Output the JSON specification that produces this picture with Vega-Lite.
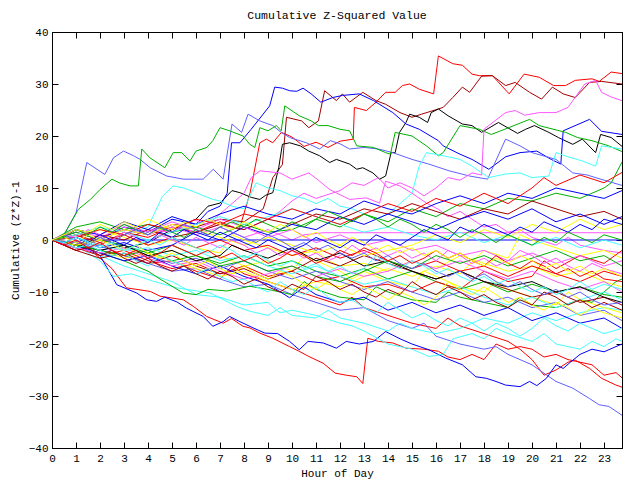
{
"$schema": "https://vega.github.io/schema/vega-lite/v6.json",
"autosize": "none",
"width": 570,
"height": 416,
"padding": {"left": 52, "top": 32, "right": 18, "bottom": 32},
"background": "white",
"title": {"text": "Cumulative Z-Squared Value", "font": "Liberation Mono", "fontSize": 11.5, "fontWeight": "normal", "color": "black", "offset": 5, "anchor": "middle"},
"config": {
  "view": {"stroke": "black", "strokeWidth": 1},
  "axis": {"labelFont": "Liberation Mono", "labelFontSize": 11, "labelColor": "black", "titleFont": "Liberation Mono", "titleFontSize": 11, "titleFontWeight": "normal", "titleColor": "black", "domainColor": "black", "tickColor": "black", "tickSize": -6, "grid": false}
},
"data": {"values": [
{"s":1,"h":0,"v":0},{"s":1,"h":1,"v":1},{"s":1,"h":2,"v":-1},{"s":1,"h":3,"v":1.5},{"s":1,"h":4,"v":0.5},{"s":1,"h":5,"v":2.5},{"s":1,"h":6,"v":1.5},{"s":1,"h":7,"v":3.5},{"s":1,"h":7.8,"v":2},{"s":1,"h":8.25,"v":9},{"s":1,"h":8.66,"v":18.7},{"s":1,"h":8.93,"v":19.4},{"s":1,"h":9.2,"v":18.7},{"s":1,"h":9.56,"v":20.7},{"s":1,"h":10,"v":19.8},{"s":1,"h":10.5,"v":18},{"s":1,"h":11,"v":18.8},{"s":1,"h":11.5,"v":17.8},{"s":1,"h":12,"v":19},{"s":1,"h":12.55,"v":19.4},{"s":1,"h":12.6,"v":25.5},{"s":1,"h":13.1,"v":24.9},{"s":1,"h":13.5,"v":26.5},{"s":1,"h":13.9,"v":28.4},{"s":1,"h":14.3,"v":28.4},{"s":1,"h":14.6,"v":29.7},{"s":1,"h":14.9,"v":30},{"s":1,"h":15.3,"v":29},{"s":1,"h":15.9,"v":28.1},{"s":1,"h":16.1,"v":35.4},{"s":1,"h":16.7,"v":33.9},{"s":1,"h":17.1,"v":33.6},{"s":1,"h":17.5,"v":31.9},{"s":1,"h":17.8,"v":31.6},{"s":1,"h":18.35,"v":31.6},{"s":1,"h":19.05,"v":28.1},{"s":1,"h":19.67,"v":31.9},{"s":1,"h":20.3,"v":31.3},{"s":1,"h":20.9,"v":29.7},{"s":1,"h":21.4,"v":29.7},{"s":1,"h":21.8,"v":30.7},{"s":1,"h":22.5,"v":31},{"s":1,"h":22.8,"v":30.5},{"s":1,"h":23.3,"v":32.3},{"s":1,"h":23.75,"v":32},
{"s":2,"h":0,"v":0},{"s":2,"h":1,"v":-1},{"s":2,"h":2,"v":0.5},{"s":2,"h":3,"v":2},{"s":2,"h":4,"v":1},{"s":2,"h":5,"v":3},{"s":2,"h":6,"v":2.5},{"s":2,"h":7,"v":4},{"s":2,"h":8,"v":3.5},{"s":2,"h":8.8,"v":6},{"s":2,"h":9.2,"v":12},{"s":2,"h":9.6,"v":14.5},{"s":2,"h":9.77,"v":23.6},{"s":2,"h":10.4,"v":22.9},{"s":2,"h":10.7,"v":21.6},{"s":2,"h":11.1,"v":22.9},{"s":2,"h":11.36,"v":28.7},{"s":2,"h":11.85,"v":26.8},{"s":2,"h":12.1,"v":28.1},{"s":2,"h":12.4,"v":26.5},{"s":2,"h":12.95,"v":28.4},{"s":2,"h":13.5,"v":26.8},{"s":2,"h":13.9,"v":26.1},{"s":2,"h":14.5,"v":24.5},{"s":2,"h":15,"v":23.6},{"s":2,"h":15.4,"v":24.2},{"s":2,"h":16.1,"v":25.2},{"s":2,"h":16.3,"v":25.5},{"s":2,"h":16.7,"v":27.4},{"s":2,"h":17.1,"v":29.4},{"s":2,"h":17.4,"v":28.4},{"s":2,"h":17.9,"v":31.5},{"s":2,"h":18.35,"v":31.6},{"s":2,"h":18.9,"v":29.7},{"s":2,"h":19.3,"v":30.3},{"s":2,"h":19.9,"v":28.4},{"s":2,"h":20.4,"v":27.1},{"s":2,"h":20.85,"v":29.4},{"s":2,"h":21.3,"v":28.1},{"s":2,"h":21.8,"v":27.4},{"s":2,"h":22.4,"v":30.3},{"s":2,"h":22.9,"v":30.5},{"s":2,"h":23.75,"v":30},
{"s":3,"h":0,"v":0},{"s":3,"h":1,"v":-1.5},{"s":3,"h":2,"v":0.5},{"s":3,"h":3,"v":-1.5},{"s":3,"h":4,"v":-0.5},{"s":3,"h":5,"v":2},{"s":3,"h":6,"v":4},{"s":3,"h":6.5,"v":6.5},{"s":3,"h":7,"v":7.1},{"s":3,"h":7.5,"v":9.5},{"s":3,"h":7.83,"v":9.1},{"s":3,"h":8.3,"v":8.2},{"s":3,"h":8.66,"v":7.8},{"s":3,"h":8.9,"v":8.6},{"s":3,"h":9.2,"v":9.1},{"s":3,"h":9.45,"v":14},{"s":3,"h":9.6,"v":18.4},{"s":3,"h":9.9,"v":18.7},{"s":3,"h":10.35,"v":18.1},{"s":3,"h":10.7,"v":17.1},{"s":3,"h":11.15,"v":16.2},{"s":3,"h":11.57,"v":14.9},{"s":3,"h":11.85,"v":15.5},{"s":3,"h":12.4,"v":14.6},{"s":3,"h":12.7,"v":13.6},{"s":3,"h":12.95,"v":13.9},{"s":3,"h":13.37,"v":12.9},{"s":3,"h":13.65,"v":11.7},{"s":3,"h":13.9,"v":12.3},{"s":3,"h":14.13,"v":16.8},{"s":3,"h":14.3,"v":16.8},{"s":3,"h":14.48,"v":20.7},{"s":3,"h":14.75,"v":22.6},{"s":3,"h":14.9,"v":24.2},{"s":3,"h":15.3,"v":23.6},{"s":3,"h":15.65,"v":22.6},{"s":3,"h":15.8,"v":24.5},{"s":3,"h":16.1,"v":25.2},{"s":3,"h":16.5,"v":23.9},{"s":3,"h":17.1,"v":22.3},{"s":3,"h":17.5,"v":22},{"s":3,"h":17.9,"v":20.7},{"s":3,"h":18.6,"v":22.6},{"s":3,"h":19.4,"v":20.5},{"s":3,"h":19.74,"v":21.3},{"s":3,"h":20.1,"v":22},{"s":3,"h":20.7,"v":20.7},{"s":3,"h":21.1,"v":19.7},{"s":3,"h":21.7,"v":18.4},{"s":3,"h":22.1,"v":19.4},{"s":3,"h":22.65,"v":16.8},{"s":3,"h":22.86,"v":20.3},{"s":3,"h":23.3,"v":19.7},{"s":3,"h":23.75,"v":18},
{"s":4,"h":0,"v":0},{"s":4,"h":1,"v":1.5},{"s":4,"h":2,"v":0},{"s":4,"h":3,"v":2.5},{"s":4,"h":4,"v":1.5},{"s":4,"h":5,"v":4},{"s":4,"h":6,"v":3},{"s":4,"h":6.5,"v":5.5},{"s":4,"h":7,"v":6.5},{"s":4,"h":7.3,"v":9},{"s":4,"h":7.48,"v":18.7},{"s":4,"h":7.83,"v":18.7},{"s":4,"h":8.3,"v":21.3},{"s":4,"h":9.07,"v":25.8},{"s":4,"h":9.28,"v":29.4},{"s":4,"h":9.6,"v":29.2},{"s":4,"h":9.9,"v":28.7},{"s":4,"h":10.2,"v":28.6},{"s":4,"h":10.46,"v":29.2},{"s":4,"h":10.8,"v":28.1},{"s":4,"h":11.2,"v":26.5},{"s":4,"h":11.7,"v":27.4},{"s":4,"h":12.1,"v":27.8},{"s":4,"h":12.8,"v":28.1},{"s":4,"h":13.4,"v":26.8},{"s":4,"h":14.2,"v":24.5},{"s":4,"h":14.75,"v":22.3},{"s":4,"h":15.3,"v":21.3},{"s":4,"h":16.1,"v":19.1},{"s":4,"h":16.3,"v":18.1},{"s":4,"h":17,"v":16.5},{"s":4,"h":17.5,"v":15.5},{"s":4,"h":18.2,"v":13.6},{"s":4,"h":18.9,"v":16},{"s":4,"h":19.5,"v":16.8},{"s":4,"h":20.2,"v":17.1},{"s":4,"h":20.8,"v":15.5},{"s":4,"h":21.2,"v":14.6},{"s":4,"h":21.3,"v":21},{"s":4,"h":22.4,"v":23.2},{"s":4,"h":22.9,"v":20.9},{"s":4,"h":23.75,"v":20.3},
{"s":5,"h":0,"v":0},{"s":5,"h":0.5,"v":1},{"s":5,"h":1,"v":5.2},{"s":5,"h":1.45,"v":14.9},{"s":5,"h":2.2,"v":12.6},{"s":5,"h":2.56,"v":15.8},{"s":5,"h":2.98,"v":17.1},{"s":5,"h":3.4,"v":16.2},{"s":5,"h":3.67,"v":15.5},{"s":5,"h":4.09,"v":13.9},{"s":5,"h":4.78,"v":12.3},{"s":5,"h":5.47,"v":11.7},{"s":5,"h":6.3,"v":11.7},{"s":5,"h":6.72,"v":13.6},{"s":5,"h":7.13,"v":11.7},{"s":5,"h":7.5,"v":22.3},{"s":5,"h":7.9,"v":20.7},{"s":5,"h":8.17,"v":24.2},{"s":5,"h":8.66,"v":22.9},{"s":5,"h":9.2,"v":22},{"s":5,"h":9.55,"v":20.7},{"s":5,"h":9.9,"v":19.7},{"s":5,"h":10.6,"v":18.7},{"s":5,"h":11.15,"v":17.5},{"s":5,"h":11.6,"v":19.1},{"s":5,"h":12,"v":18.5},{"s":5,"h":12.4,"v":17.5},{"s":5,"h":13,"v":17.8},{"s":5,"h":13.6,"v":17.5},{"s":5,"h":14.2,"v":16.8},{"s":5,"h":15,"v":15.5},{"s":5,"h":15.7,"v":14.6},{"s":5,"h":16.55,"v":13.3},{"s":5,"h":17.4,"v":12.3},{"s":5,"h":18.15,"v":11.7},{"s":5,"h":18.9,"v":19.4},{"s":5,"h":19.5,"v":18.1},{"s":5,"h":20,"v":16.8},{"s":5,"h":21,"v":15.5},{"s":5,"h":21.7,"v":12.9},{"s":5,"h":22.3,"v":12.5},{"s":5,"h":23,"v":11.5},{"s":5,"h":23.75,"v":10.5},
{"s":6,"h":0,"v":0},{"s":6,"h":0.5,"v":1},{"s":6,"h":1.1,"v":5.9},{"s":6,"h":1.6,"v":7.8},{"s":6,"h":2,"v":9.7},{"s":6,"h":2.5,"v":11.7},{"s":6,"h":2.8,"v":11},{"s":6,"h":3.25,"v":10.4},{"s":6,"h":3.6,"v":10.4},{"s":6,"h":3.74,"v":17.5},{"s":6,"h":4.08,"v":15.8},{"s":6,"h":4.7,"v":13.9},{"s":6,"h":5.05,"v":16.8},{"s":6,"h":5.4,"v":16.8},{"s":6,"h":5.75,"v":15.2},{"s":6,"h":6,"v":17.1},{"s":6,"h":6.45,"v":17.8},{"s":6,"h":6.7,"v":19.1},{"s":6,"h":7,"v":21.6},{"s":6,"h":7.4,"v":21},{"s":6,"h":7.96,"v":20},{"s":6,"h":8.24,"v":18.4},{"s":6,"h":8.45,"v":17.8},{"s":6,"h":8.66,"v":21.6},{"s":6,"h":9,"v":21},{"s":6,"h":9.35,"v":22},{"s":6,"h":9.55,"v":21},{"s":6,"h":9.7,"v":25.8},{"s":6,"h":10.3,"v":23.9},{"s":6,"h":10.8,"v":22.9},{"s":6,"h":11.1,"v":22},{"s":6,"h":11.5,"v":22},{"s":6,"h":12,"v":21.3},{"s":6,"h":12.4,"v":21},{"s":6,"h":12.7,"v":18.1},{"s":6,"h":13.4,"v":17.8},{"s":6,"h":13.9,"v":16.8},{"s":6,"h":14.1,"v":16.5},{"s":6,"h":14.3,"v":20.7},{"s":6,"h":15,"v":20},{"s":6,"h":15.6,"v":18.1},{"s":6,"h":16.1,"v":16.2},{"s":6,"h":16.3,"v":16.8},{"s":6,"h":17,"v":22},{"s":6,"h":17.8,"v":21.3},{"s":6,"h":18.3,"v":20.3},{"s":6,"h":18.7,"v":21},{"s":6,"h":19.9,"v":23.2},{"s":6,"h":20.3,"v":22},{"s":6,"h":21.4,"v":20.7},{"s":6,"h":21.9,"v":19.7},{"s":6,"h":22.5,"v":19.1},{"s":6,"h":23.2,"v":18.1},{"s":6,"h":23.75,"v":17},
{"s":7,"h":0,"v":0},{"s":7,"h":1,"v":2},{"s":7,"h":2,"v":0.5},{"s":7,"h":3,"v":2.5},{"s":7,"h":4,"v":1},{"s":7,"h":5,"v":3},{"s":7,"h":6,"v":1.5},{"s":7,"h":7,"v":3},{"s":7,"h":8,"v":2},{"s":7,"h":9,"v":4},{"s":7,"h":9.5,"v":5.5},{"s":7,"h":10,"v":7.5},{"s":7,"h":10.5,"v":9},{"s":7,"h":11,"v":8},{"s":7,"h":12,"v":9.5},{"s":7,"h":12.5,"v":11},{"s":7,"h":13,"v":10.5},{"s":7,"h":13.6,"v":12},{"s":7,"h":14,"v":10},{"s":7,"h":14.5,"v":11},{"s":7,"h":15,"v":10},{"s":7,"h":15.5,"v":8.5},{"s":7,"h":16,"v":10},{"s":7,"h":16.5,"v":12},{"s":7,"h":17,"v":11.5},{"s":7,"h":17.5,"v":12.9},{"s":7,"h":17.9,"v":12.5},{"s":7,"h":18,"v":21.3},{"s":7,"h":18.9,"v":24.5},{"s":7,"h":19.3,"v":24.9},{"s":7,"h":19.7,"v":24},{"s":7,"h":20.3,"v":24.5},{"s":7,"h":21,"v":24.5},{"s":7,"h":21.5,"v":25.5},{"s":7,"h":22.2,"v":30},{"s":7,"h":22.65,"v":30.7},{"s":7,"h":22.9,"v":28.4},{"s":7,"h":23.3,"v":27.5},{"s":7,"h":23.75,"v":26.8},
{"s":8,"h":0,"v":0},{"s":8,"h":1,"v":-1},{"s":8,"h":2,"v":1},{"s":8,"h":3,"v":0},{"s":8,"h":4,"v":2},{"s":8,"h":5,"v":1.5},{"s":8,"h":5.9,"v":3.9},{"s":8,"h":6.5,"v":3},{"s":8,"h":7,"v":5},{"s":8,"h":7.5,"v":7},{"s":8,"h":8,"v":9},{"s":8,"h":8.3,"v":12},{"s":8,"h":8.66,"v":13.3},{"s":8,"h":9.5,"v":12.9},{"s":8,"h":10,"v":11.7},{"s":8,"h":10.7,"v":12.9},{"s":8,"h":11.1,"v":11.5},{"s":8,"h":11.57,"v":9.7},{"s":8,"h":12.4,"v":7.8},{"s":8,"h":13.1,"v":8.1},{"s":8,"h":13.65,"v":7.1},{"s":8,"h":13.9,"v":11.3},{"s":8,"h":14.5,"v":10.4},{"s":8,"h":15,"v":9},{"s":8,"h":15.6,"v":7.1},{"s":8,"h":16.1,"v":5.9},{"s":8,"h":16.5,"v":4.5},{"s":8,"h":17,"v":5.5},{"s":8,"h":17.5,"v":4},{"s":8,"h":18,"v":2.5},{"s":8,"h":18.5,"v":3},{"s":8,"h":19,"v":1.5},{"s":8,"h":19.5,"v":2},{"s":8,"h":20,"v":0.5},{"s":8,"h":21,"v":-1},{"s":8,"h":21.5,"v":0.5},{"s":8,"h":22,"v":-1},{"s":8,"h":23,"v":-2},{"s":8,"h":23.75,"v":-2.5},
{"s":9,"h":0,"v":0},{"s":9,"h":1,"v":1},{"s":9,"h":2,"v":-0.5},{"s":9,"h":3,"v":1},{"s":9,"h":4,"v":2.5},{"s":9,"h":4.6,"v":8.4},{"s":9,"h":5.05,"v":10.4},{"s":9,"h":5.5,"v":10},{"s":9,"h":6,"v":9.1},{"s":9,"h":6.7,"v":7.8},{"s":9,"h":7,"v":7.5},{"s":9,"h":7.5,"v":6.5},{"s":9,"h":8,"v":6},{"s":9,"h":8.5,"v":11},{"s":9,"h":9,"v":10},{"s":9,"h":9.5,"v":9.5},{"s":9,"h":10,"v":8.5},{"s":9,"h":10.5,"v":8},{"s":9,"h":11,"v":7},{"s":9,"h":11.5,"v":8},{"s":9,"h":12,"v":6.5},{"s":9,"h":12.5,"v":6},{"s":9,"h":13,"v":5},{"s":9,"h":13.5,"v":4},{"s":9,"h":14,"v":5},{"s":9,"h":14.5,"v":7},{"s":9,"h":15,"v":9},{"s":9,"h":15.3,"v":14.2},{"s":9,"h":15.6,"v":16.8},{"s":9,"h":16.3,"v":16.2},{"s":9,"h":17,"v":15.5},{"s":9,"h":17.5,"v":14.2},{"s":9,"h":18.2,"v":12},{"s":9,"h":18.9,"v":12.7},{"s":9,"h":19.5,"v":12.9},{"s":9,"h":20,"v":12},{"s":9,"h":20.7,"v":12.3},{"s":9,"h":21,"v":16.8},{"s":9,"h":21.5,"v":16},{"s":9,"h":22.1,"v":15.2},{"s":9,"h":22.65,"v":14.2},{"s":9,"h":22.9,"v":18.1},{"s":9,"h":23.75,"v":17.5},
{"s":10,"h":0,"v":0},{"s":10,"h":0.5,"v":-1},{"s":10,"h":1,"v":-2},{"s":10,"h":1.5,"v":-1.5},{"s":10,"h":2,"v":-3.5},{"s":10,"h":2.5,"v":-5.5},{"s":10,"h":3.1,"v":-9.2},{"s":10,"h":4.1,"v":-9.9},{"s":10,"h":4.5,"v":-10.8},{"s":10,"h":5.47,"v":-11.5},{"s":10,"h":5.9,"v":-12.8},{"s":10,"h":6.44,"v":-14.7},{"s":10,"h":7.13,"v":-16},{"s":10,"h":7.48,"v":-15.1},{"s":10,"h":7.96,"v":-16.6},{"s":10,"h":8.24,"v":-16.9},{"s":10,"h":8.66,"v":-17.9},{"s":10,"h":9.2,"v":-18.9},{"s":10,"h":9.9,"v":-20.5},{"s":10,"h":10.3,"v":-21.4},{"s":10,"h":10.7,"v":-22.4},{"s":10,"h":11.3,"v":-23.7},{"s":10,"h":11.8,"v":-25.6},{"s":10,"h":12.26,"v":-26},{"s":10,"h":12.7,"v":-26.3},{"s":10,"h":12.95,"v":-27.6},{"s":10,"h":13.16,"v":-18.9},{"s":10,"h":13.6,"v":-19.5},{"s":10,"h":14.2,"v":-19.8},{"s":10,"h":14.75,"v":-20.8},{"s":10,"h":15.5,"v":-21},{"s":10,"h":16.1,"v":-21.4},{"s":10,"h":16.5,"v":-22.5},{"s":10,"h":17,"v":-23},{"s":10,"h":17.5,"v":-22},{"s":10,"h":18,"v":-23},{"s":10,"h":18.5,"v":-20},{"s":10,"h":19,"v":-21},{"s":10,"h":19.5,"v":-20.5},{"s":10,"h":20,"v":-21},{"s":10,"h":20.5,"v":-22.5},{"s":10,"h":21,"v":-22},{"s":10,"h":21.5,"v":-23},{"s":10,"h":22,"v":-23.5},{"s":10,"h":22.5,"v":-24},{"s":10,"h":23,"v":-26},{"s":10,"h":23.5,"v":-25.5},{"s":10,"h":23.75,"v":-26.5},
{"s":11,"h":0,"v":0},{"s":11,"h":1,"v":-0.5},{"s":11,"h":2,"v":-2},{"s":11,"h":3,"v":-3},{"s":11,"h":4,"v":-4.5},{"s":11,"h":5,"v":-4},{"s":11,"h":6,"v":-6},{"s":11,"h":7,"v":-7.5},{"s":11,"h":7.5,"v":-5},{"s":11,"h":8,"v":-6.5},{"s":11,"h":9,"v":-8},{"s":11,"h":10,"v":-9.5},{"s":11,"h":11,"v":-11},{"s":11,"h":12,"v":-12.5},{"s":11,"h":12.5,"v":-11},{"s":11,"h":13,"v":-13},{"s":11,"h":14,"v":-14.5},{"s":11,"h":15,"v":-16},{"s":11,"h":16,"v":-17},{"s":11,"h":16.5,"v":-15},{"s":11,"h":17,"v":-16.5},{"s":11,"h":18,"v":-18},{"s":11,"h":19,"v":-19.5},{"s":11,"h":19.5,"v":-21},{"s":11,"h":20,"v":-23},{"s":11,"h":20.5,"v":-26},{"s":11,"h":21,"v":-25},{"s":11,"h":21.5,"v":-23.5},{"s":11,"h":21.8,"v":-23.1},{"s":11,"h":22.4,"v":-24.7},{"s":11,"h":22.9,"v":-26.6},{"s":11,"h":23.5,"v":-27.9},{"s":11,"h":23.75,"v":-28.3},
{"s":12,"h":0,"v":0},{"s":12,"h":1,"v":-1.5},{"s":12,"h":2,"v":-1},{"s":12,"h":3,"v":-3},{"s":12,"h":4,"v":-4.5},{"s":12,"h":5,"v":-6},{"s":12,"h":6,"v":-5.5},{"s":12,"h":7,"v":-7.5},{"s":12,"h":8,"v":-9},{"s":12,"h":9,"v":-8.5},{"s":12,"h":10,"v":-10.5},{"s":12,"h":11,"v":-12},{"s":12,"h":12,"v":-13.5},{"s":12,"h":13,"v":-13},{"s":12,"h":14,"v":-15.5},{"s":12,"h":15,"v":-17},{"s":12,"h":15.5,"v":-16},{"s":12,"h":16,"v":-18.5},{"s":12,"h":17,"v":-20},{"s":12,"h":18,"v":-21},{"s":12,"h":18.5,"v":-20.5},{"s":12,"h":19,"v":-22},{"s":12,"h":20,"v":-24},{"s":12,"h":20.4,"v":-25.3},{"s":12,"h":21,"v":-27.2},{"s":12,"h":21.7,"v":-28.5},{"s":12,"h":22.4,"v":-30.5},{"s":12,"h":22.8,"v":-31.7},{"s":12,"h":23.2,"v":-32},{"s":12,"h":23.75,"v":-33.7},
{"s":13,"h":0,"v":0},{"s":13,"h":1,"v":-1},{"s":13,"h":2,"v":-3},{"s":13,"h":2.7,"v":-8.6},{"s":13,"h":3.53,"v":-10.2},{"s":13,"h":3.95,"v":-11.5},{"s":13,"h":4.36,"v":-11.8},{"s":13,"h":4.7,"v":-11},{"s":13,"h":5.2,"v":-11.9},{"s":13,"h":5.6,"v":-13.1},{"s":13,"h":6.3,"v":-14.7},{"s":13,"h":6.7,"v":-16.6},{"s":13,"h":7.13,"v":-15.7},{"s":13,"h":7.4,"v":-14.7},{"s":13,"h":7.83,"v":-15.7},{"s":13,"h":8.38,"v":-16.9},{"s":13,"h":8.87,"v":-17.9},{"s":13,"h":9.4,"v":-18},{"s":13,"h":9.9,"v":-19.5},{"s":13,"h":10.3,"v":-21.1},{"s":13,"h":10.67,"v":-19.5},{"s":13,"h":11.3,"v":-19.8},{"s":13,"h":11.85,"v":-20.8},{"s":13,"h":12.26,"v":-19.5},{"s":13,"h":12.8,"v":-20},{"s":13,"h":13.4,"v":-19.5},{"s":13,"h":13.9,"v":-17.6},{"s":13,"h":14.5,"v":-19},{"s":13,"h":15,"v":-20},{"s":13,"h":15.7,"v":-21.1},{"s":13,"h":16.4,"v":-22.7},{"s":13,"h":17.1,"v":-24},{"s":13,"h":17.66,"v":-26.3},{"s":13,"h":18.1,"v":-26.6},{"s":13,"h":18.5,"v":-27.2},{"s":13,"h":18.9,"v":-27.9},{"s":13,"h":19.5,"v":-28.2},{"s":13,"h":19.9,"v":-27.2},{"s":13,"h":20.2,"v":-28},{"s":13,"h":20.6,"v":-26.6},{"s":13,"h":21,"v":-24},{"s":13,"h":21.3,"v":-24.7},{"s":13,"h":21.6,"v":-23.5},{"s":13,"h":22,"v":-22},{"s":13,"h":22.5,"v":-21},{"s":13,"h":23,"v":-21.5},{"s":13,"h":23.75,"v":-20},
{"s":14,"h":0,"v":0},{"s":14,"h":1,"v":-1.5},{"s":14,"h":2,"v":-3},{"s":14,"h":3,"v":-5},{"s":14,"h":4,"v":-6.5},{"s":14,"h":5,"v":-8},{"s":14,"h":6,"v":-10.5},{"s":14,"h":7,"v":-11},{"s":14,"h":8,"v":-12.5},{"s":14,"h":9,"v":-12},{"s":14,"h":9.5,"v":-14},{"s":14,"h":10,"v":-13.5},{"s":14,"h":11,"v":-14.5},{"s":14,"h":12,"v":-16},{"s":14,"h":12.5,"v":-16.5},{"s":14,"h":13,"v":-17.5},{"s":14,"h":14,"v":-20},{"s":14,"h":15,"v":-21},{"s":14,"h":15.7,"v":-22.4},{"s":14,"h":16.3,"v":-22},{"s":14,"h":16.7,"v":-19},{"s":14,"h":17.5,"v":-18},{"s":14,"h":18,"v":-19},{"s":14,"h":18.5,"v":-17},{"s":14,"h":19,"v":-18},{"s":14,"h":20,"v":-19.5},{"s":14,"h":20.5,"v":-18},{"s":14,"h":21,"v":-20},{"s":14,"h":22,"v":-21},{"s":14,"h":22.5,"v":-19.5},{"s":14,"h":23,"v":-20.5},{"s":14,"h":23.5,"v":-19},{"s":14,"h":23.75,"v":-19.5},
{"s":15,"h":0,"v":0},{"s":15,"h":1,"v":-1},{"s":15,"h":2,"v":-4},{"s":15,"h":2.56,"v":-7},{"s":15,"h":3.3,"v":-6.5},{"s":15,"h":4.2,"v":-7.9},{"s":15,"h":5.2,"v":-9.2},{"s":15,"h":6.6,"v":-10.2},{"s":15,"h":7.7,"v":-12.8},{"s":15,"h":8.24,"v":-13.7},{"s":15,"h":9,"v":-14.5},{"s":15,"h":9.5,"v":-13},{"s":15,"h":10,"v":-14.5},{"s":15,"h":11,"v":-15},{"s":15,"h":11.5,"v":-13.5},{"s":15,"h":12,"v":-15},{"s":15,"h":13,"v":-16},{"s":15,"h":14,"v":-17.5},{"s":15,"h":14.5,"v":-16},{"s":15,"h":15,"v":-17},{"s":15,"h":16,"v":-18},{"s":15,"h":17,"v":-17},{"s":15,"h":18,"v":-15},{"s":15,"h":19,"v":-16},{"s":15,"h":20,"v":-14},{"s":15,"h":21,"v":-15.5},{"s":15,"h":22,"v":-14},{"s":15,"h":23,"v":-13},{"s":15,"h":23.75,"v":-13.5},
{"s":16,"h":0,"v":0},{"s":16,"h":1,"v":-1},{"s":16,"h":2,"v":-2.5},{"s":16,"h":3,"v":-4},{"s":16,"h":4,"v":-6},{"s":16,"h":4.5,"v":-7.5},{"s":16,"h":5.47,"v":-10.2},{"s":16,"h":6,"v":-10.5},{"s":16,"h":6.5,"v":-9.5},{"s":16,"h":7.3,"v":-9.8},{"s":16,"h":8.24,"v":-8.9},{"s":16,"h":9,"v":-9.5},{"s":16,"h":10,"v":-10.5},{"s":16,"h":10.5,"v":-8},{"s":16,"h":11,"v":-9.5},{"s":16,"h":12,"v":-11},{"s":16,"h":13,"v":-11.5},{"s":16,"h":13.5,"v":-9},{"s":16,"h":14,"v":-10},{"s":16,"h":15,"v":-11.5},{"s":16,"h":16,"v":-12},{"s":16,"h":16.5,"v":-10},{"s":16,"h":17,"v":-11},{"s":16,"h":18,"v":-12},{"s":16,"h":19,"v":-13},{"s":16,"h":19.5,"v":-11},{"s":16,"h":20,"v":-12.5},{"s":16,"h":21,"v":-13},{"s":16,"h":22,"v":-11.5},{"s":16,"h":22.5,"v":-12},{"s":16,"h":23,"v":-10},{"s":16,"h":23.5,"v":-8},{"s":16,"h":23.75,"v":-7.5},
{"s":17,"h":0,"v":0},{"s":17,"h":1,"v":1.5},{"s":17,"h":2,"v":0},{"s":17,"h":3,"v":2},{"s":17,"h":4,"v":1},{"s":17,"h":5,"v":2.5},{"s":17,"h":6,"v":1},{"s":17,"h":7,"v":2.5},{"s":17,"h":8,"v":0.5},{"s":17,"h":9,"v":2},{"s":17,"h":10,"v":0},{"s":17,"h":10.5,"v":1},{"s":17,"h":11.3,"v":1.4},{"s":17,"h":23.75,"v":1.4},
{"s":18,"h":0,"v":0},{"s":18,"h":0.5,"v":-1},{"s":18,"h":1.3,"v":0},{"s":18,"h":23.75,"v":0},
{"s":19,"h":0,"v":0},{"s":19,"h":1,"v":-1},{"s":19,"h":2,"v":0.5},{"s":19,"h":3,"v":-1.5},{"s":19,"h":4,"v":-3},{"s":19,"h":5,"v":-2},{"s":19,"h":6,"v":-4},{"s":19,"h":7,"v":-3},{"s":19,"h":8,"v":-5},{"s":19,"h":9,"v":-4},{"s":19,"h":10,"v":-6},{"s":19,"h":10.5,"v":-3},{"s":19,"h":11,"v":-4},{"s":19,"h":12,"v":-6},{"s":19,"h":12.5,"v":-7.5},{"s":19,"h":13,"v":-6},{"s":19,"h":14,"v":-8},{"s":19,"h":15,"v":-9},{"s":19,"h":15.5,"v":-6},{"s":19,"h":16,"v":-7},{"s":19,"h":17,"v":-9},{"s":19,"h":18,"v":-10},{"s":19,"h":18.5,"v":-8},{"s":19,"h":19,"v":-9.5},{"s":19,"h":20,"v":-11},{"s":19,"h":21,"v":-12.5},{"s":19,"h":21.5,"v":-10},{"s":19,"h":22,"v":-11.5},{"s":19,"h":23,"v":-13},{"s":19,"h":23.75,"v":-14},
{"s":20,"h":0,"v":0},{"s":20,"h":1,"v":1},{"s":20,"h":2,"v":2},{"s":20,"h":3,"v":0.5},{"s":20,"h":4,"v":-1},{"s":20,"h":5,"v":0},{"s":20,"h":6,"v":-1.5},{"s":20,"h":7,"v":-2.5},{"s":20,"h":7.5,"v":1},{"s":20,"h":8,"v":0},{"s":20,"h":9,"v":-1.5},{"s":20,"h":10,"v":-3},{"s":20,"h":11,"v":-2},{"s":20,"h":11.5,"v":-4},{"s":20,"h":12,"v":-5},{"s":20,"h":13,"v":-4.5},{"s":20,"h":14,"v":-6},{"s":20,"h":15,"v":-4},{"s":20,"h":16,"v":-5.5},{"s":20,"h":17,"v":-3},{"s":20,"h":18,"v":-4.5},{"s":20,"h":19,"v":-6},{"s":20,"h":20,"v":-5},{"s":20,"h":21,"v":-7},{"s":20,"h":22,"v":-6},{"s":20,"h":23,"v":-8},{"s":20,"h":23.75,"v":-9},
{"s":21,"h":0,"v":0},{"s":21,"h":1,"v":-0.5},{"s":21,"h":2,"v":-2},{"s":21,"h":3,"v":-3.5},{"s":21,"h":4,"v":-2.5},{"s":21,"h":5,"v":-4},{"s":21,"h":6,"v":-5.5},{"s":21,"h":7,"v":-7},{"s":21,"h":8,"v":-6},{"s":21,"h":9,"v":-8},{"s":21,"h":10,"v":-9.5},{"s":21,"h":11,"v":-8},{"s":21,"h":12,"v":-9},{"s":21,"h":13,"v":-7},{"s":21,"h":14,"v":-5.5},{"s":21,"h":15,"v":-7},{"s":21,"h":16,"v":-5},{"s":21,"h":17,"v":-6.5},{"s":21,"h":18,"v":-2},{"s":21,"h":19,"v":-3.5},{"s":21,"h":19.5,"v":1},{"s":21,"h":20,"v":0},{"s":21,"h":21,"v":-1.5},{"s":21,"h":22,"v":-3},{"s":21,"h":23,"v":-2},{"s":21,"h":23.75,"v":-3.5},
{"s":22,"h":0,"v":0},{"s":22,"h":1,"v":1.5},{"s":22,"h":2,"v":0},{"s":22,"h":3,"v":-1},{"s":22,"h":4,"v":-2.5},{"s":22,"h":5,"v":-1},{"s":22,"h":6,"v":-3},{"s":22,"h":7,"v":-4.5},{"s":22,"h":8,"v":-3},{"s":22,"h":9,"v":-5},{"s":22,"h":10,"v":-4},{"s":22,"h":11,"v":-6},{"s":22,"h":12,"v":-7},{"s":22,"h":13,"v":-5.5},{"s":22,"h":14,"v":-7.5},{"s":22,"h":15,"v":-6},{"s":22,"h":16,"v":-8},{"s":22,"h":17,"v":-9.5},{"s":22,"h":18,"v":-8},{"s":22,"h":19,"v":-10},{"s":22,"h":20,"v":-8.5},{"s":22,"h":21,"v":-10},{"s":22,"h":22,"v":-9},{"s":22,"h":23,"v":-10.5},{"s":22,"h":23.75,"v":-11},
{"s":23,"h":0,"v":0},{"s":23,"h":1,"v":2.5},{"s":23,"h":2,"v":3.5},{"s":23,"h":3,"v":2},{"s":23,"h":4,"v":3},{"s":23,"h":5,"v":1.5},{"s":23,"h":6,"v":2.5},{"s":23,"h":7,"v":1},{"s":23,"h":8,"v":3},{"s":23,"h":9,"v":1.5},{"s":23,"h":10,"v":2},{"s":23,"h":11,"v":4},{"s":23,"h":12,"v":2.5},{"s":23,"h":13,"v":5},{"s":23,"h":14,"v":3.5},{"s":23,"h":15,"v":6},{"s":23,"h":16,"v":4.5},{"s":23,"h":17,"v":7},{"s":23,"h":18,"v":6},{"s":23,"h":19,"v":8},{"s":23,"h":20,"v":7.5},{"s":23,"h":21,"v":9},{"s":23,"h":22,"v":8},{"s":23,"h":23,"v":10},{"s":23,"h":23.3,"v":11},{"s":23,"h":23.75,"v":15},
{"s":24,"h":0,"v":0},{"s":24,"h":1,"v":-1.5},{"s":24,"h":2,"v":-3},{"s":24,"h":3,"v":-2},{"s":24,"h":4,"v":-4},{"s":24,"h":5,"v":-5.5},{"s":24,"h":6,"v":-4.5},{"s":24,"h":7,"v":-6.5},{"s":24,"h":8,"v":-5},{"s":24,"h":9,"v":-7},{"s":24,"h":10,"v":-6},{"s":24,"h":11,"v":-8},{"s":24,"h":12,"v":-7},{"s":24,"h":13,"v":-9},{"s":24,"h":14,"v":-8.5},{"s":24,"h":15,"v":-10},{"s":24,"h":16,"v":-8},{"s":24,"h":17,"v":-9.5},{"s":24,"h":18,"v":-6},{"s":24,"h":19,"v":-8},{"s":24,"h":20,"v":-7},{"s":24,"h":20.5,"v":-4},{"s":24,"h":21,"v":-5.5},{"s":24,"h":22,"v":-3},{"s":24,"h":23,"v":-4.5},{"s":24,"h":23.75,"v":-2},
{"s":25,"h":0,"v":0},{"s":25,"h":1,"v":1},{"s":25,"h":2,"v":-0.5},{"s":25,"h":3,"v":1},{"s":25,"h":4,"v":-1},{"s":25,"h":5,"v":0.5},{"s":25,"h":6,"v":-1.5},{"s":25,"h":7,"v":0},{"s":25,"h":8,"v":-2},{"s":25,"h":9,"v":-1},{"s":25,"h":10,"v":-3},{"s":25,"h":11,"v":-1.5},{"s":25,"h":12,"v":-3.5},{"s":25,"h":13,"v":-2},{"s":25,"h":14,"v":-4},{"s":25,"h":15,"v":-5.5},{"s":25,"h":16,"v":-4},{"s":25,"h":17,"v":-6},{"s":25,"h":18,"v":-5},{"s":25,"h":19,"v":-7},{"s":25,"h":20,"v":-5},{"s":25,"h":21,"v":-6.5},{"s":25,"h":22,"v":-8},{"s":25,"h":23,"v":-6},{"s":25,"h":23.75,"v":-7},
{"s":26,"h":0,"v":0},{"s":26,"h":1,"v":-1},{"s":26,"h":2,"v":1},{"s":26,"h":3,"v":0},{"s":26,"h":4,"v":2},{"s":26,"h":5,"v":0.5},{"s":26,"h":6,"v":1.5},{"s":26,"h":7,"v":3},{"s":26,"h":8,"v":2},{"s":26,"h":9,"v":4},{"s":26,"h":10,"v":3},{"s":26,"h":11,"v":5},{"s":26,"h":12,"v":4},{"s":26,"h":13,"v":6},{"s":26,"h":14,"v":5},{"s":26,"h":15,"v":7},{"s":26,"h":16,"v":5.5},{"s":26,"h":17,"v":4},{"s":26,"h":18,"v":6},{"s":26,"h":19,"v":5},{"s":26,"h":20,"v":7.5},{"s":26,"h":21,"v":6},{"s":26,"h":22,"v":4.5},{"s":26,"h":23,"v":5.5},{"s":26,"h":23.75,"v":4},
{"s":27,"h":0,"v":0},{"s":27,"h":1,"v":-2},{"s":27,"h":2,"v":-3.5},{"s":27,"h":3,"v":-2.5},{"s":27,"h":4,"v":-4.5},{"s":27,"h":5,"v":-3},{"s":27,"h":6,"v":-5},{"s":27,"h":7,"v":-6.5},{"s":27,"h":8,"v":-5.5},{"s":27,"h":9,"v":-7.5},{"s":27,"h":10,"v":-6},{"s":27,"h":11,"v":-3.5},{"s":27,"h":12,"v":-5},{"s":27,"h":13,"v":-3},{"s":27,"h":14,"v":-4.5},{"s":27,"h":15,"v":-6},{"s":27,"h":16,"v":-7.5},{"s":27,"h":17,"v":-6},{"s":27,"h":18,"v":-8},{"s":27,"h":19,"v":-9.5},{"s":27,"h":20,"v":-11},{"s":27,"h":21,"v":-10},{"s":27,"h":22,"v":-12},{"s":27,"h":23,"v":-11},{"s":27,"h":23.75,"v":-12.5},
{"s":28,"h":0,"v":0},{"s":28,"h":1,"v":0.5},{"s":28,"h":2,"v":-1.5},{"s":28,"h":3,"v":-0.5},{"s":28,"h":4,"v":-2},{"s":28,"h":5,"v":-1},{"s":28,"h":6,"v":1.5},{"s":28,"h":7,"v":0},{"s":28,"h":8,"v":2.5},{"s":28,"h":9,"v":1},{"s":28,"h":10,"v":3},{"s":28,"h":11,"v":2},{"s":28,"h":12,"v":4.5},{"s":28,"h":13,"v":3},{"s":28,"h":14,"v":5},{"s":28,"h":15,"v":3.5},{"s":28,"h":16,"v":2},{"s":28,"h":17,"v":4},{"s":28,"h":18,"v":5.5},{"s":28,"h":19,"v":4},{"s":28,"h":20,"v":6},{"s":28,"h":21,"v":3.5},{"s":28,"h":22,"v":5},{"s":28,"h":23,"v":3},{"s":28,"h":23.75,"v":4.5},
{"s":29,"h":0,"v":0},{"s":29,"h":1,"v":-1},{"s":29,"h":2,"v":-2.5},{"s":29,"h":3,"v":-4},{"s":29,"h":4,"v":-3},{"s":29,"h":5,"v":-5},{"s":29,"h":6,"v":-6.5},{"s":29,"h":7,"v":-5},{"s":29,"h":8,"v":-7},{"s":29,"h":9,"v":-8.5},{"s":29,"h":9.9,"v":-11.1},{"s":29,"h":10.5,"v":-9},{"s":29,"h":11,"v":-10.5},{"s":29,"h":12,"v":-12},{"s":29,"h":13,"v":-11},{"s":29,"h":14,"v":-13.5},{"s":29,"h":15,"v":-12},{"s":29,"h":16,"v":-14},{"s":29,"h":17,"v":-12.5},{"s":29,"h":18,"v":-14.5},{"s":29,"h":19,"v":-13},{"s":29,"h":20,"v":-15.5},{"s":29,"h":21,"v":-14},{"s":29,"h":22,"v":-16},{"s":29,"h":23,"v":-15},{"s":29,"h":23.75,"v":-17},
{"s":30,"h":0,"v":0},{"s":30,"h":1,"v":-0.5},{"s":30,"h":2,"v":-2},{"s":30,"h":3,"v":-1},{"s":30,"h":4,"v":-3},{"s":30,"h":5,"v":-4.5},{"s":30,"h":6,"v":-3.5},{"s":30,"h":7,"v":-5.5},{"s":30,"h":8,"v":-4},{"s":30,"h":9,"v":-6},{"s":30,"h":10,"v":-7.5},{"s":30,"h":11,"v":-6},{"s":30,"h":12,"v":-8},{"s":30,"h":13,"v":-9.5},{"s":30,"h":14,"v":-8},{"s":30,"h":15,"v":-10},{"s":30,"h":16,"v":-11.5},{"s":30,"h":17,"v":-10},{"s":30,"h":18,"v":-12},{"s":30,"h":19,"v":-11},{"s":30,"h":20,"v":-13},{"s":30,"h":21,"v":-12},{"s":30,"h":22,"v":-14.5},{"s":30,"h":23,"v":-13.5},{"s":30,"h":23.75,"v":-15.5},
{"s":31,"h":0,"v":0},{"s":31,"h":1,"v":2},{"s":31,"h":2,"v":1},{"s":31,"h":3,"v":3},{"s":31,"h":4,"v":1.5},{"s":31,"h":5,"v":3.5},{"s":31,"h":6,"v":2},{"s":31,"h":7,"v":4},{"s":31,"h":8,"v":2.5},{"s":31,"h":9,"v":0.5},{"s":31,"h":10,"v":2},{"s":31,"h":11,"v":-0.5},{"s":31,"h":12,"v":1},{"s":31,"h":13,"v":-1},{"s":31,"h":14,"v":0},{"s":31,"h":15,"v":-2},{"s":31,"h":16,"v":-1},{"s":31,"h":17,"v":-3},{"s":31,"h":18,"v":-2},{"s":31,"h":19,"v":-4},{"s":31,"h":20,"v":-2.5},{"s":31,"h":21,"v":-4.5},{"s":31,"h":22,"v":-3},{"s":31,"h":23,"v":-5},{"s":31,"h":23.75,"v":-4},
{"s":32,"h":0,"v":0},{"s":32,"h":1,"v":-1.5},{"s":32,"h":2,"v":-2.5},{"s":32,"h":3,"v":-1.5},{"s":32,"h":4,"v":-3.5},{"s":32,"h":5,"v":-5},{"s":32,"h":6,"v":-4},{"s":32,"h":7,"v":-6},{"s":32,"h":8,"v":-7.5},{"s":32,"h":9,"v":-6.5},{"s":32,"h":10,"v":-5},{"s":32,"h":11,"v":-7},{"s":32,"h":12,"v":-5.5},{"s":32,"h":13,"v":-7},{"s":32,"h":14,"v":-6},{"s":32,"h":15,"v":-4},{"s":32,"h":16,"v":-5.5},{"s":32,"h":17,"v":-4},{"s":32,"h":18,"v":-6},{"s":32,"h":19,"v":-7.5},{"s":32,"h":20,"v":-6},{"s":32,"h":21,"v":-8},{"s":32,"h":22,"v":-9.5},{"s":32,"h":23,"v":-8},{"s":32,"h":23.75,"v":-10},
{"s":33,"h":0,"v":0},{"s":33,"h":1,"v":0.5},{"s":33,"h":2,"v":-1},{"s":33,"h":3,"v":-2},{"s":33,"h":4,"v":-1.5},{"s":33,"h":5,"v":-3},{"s":33,"h":6,"v":-2},{"s":33,"h":7,"v":-4},{"s":33,"h":8,"v":-3},{"s":33,"h":9,"v":-5},{"s":33,"h":10,"v":-6.5},{"s":33,"h":11,"v":-5},{"s":33,"h":12,"v":-7},{"s":33,"h":13,"v":-8.5},{"s":33,"h":14,"v":-7.5},{"s":33,"h":15,"v":-9},{"s":33,"h":16,"v":-10.5},{"s":33,"h":17,"v":-9},{"s":33,"h":18,"v":-11},{"s":33,"h":19,"v":-12.5},{"s":33,"h":20,"v":-11},{"s":33,"h":21,"v":-13},{"s":33,"h":22,"v":-11.5},{"s":33,"h":23,"v":-10},{"s":33,"h":23.75,"v":-11.5},
{"s":34,"h":0,"v":0},{"s":34,"h":1,"v":-1},{"s":34,"h":2,"v":-2},{"s":34,"h":3,"v":-1},{"s":34,"h":4,"v":-3},{"s":34,"h":5,"v":-2},{"s":34,"h":6,"v":-4},{"s":34,"h":7,"v":-3},{"s":34,"h":7.5,"v":-1},{"s":34,"h":8,"v":-2},{"s":34,"h":9,"v":-3.5},{"s":34,"h":10,"v":-1.5},{"s":34,"h":11,"v":-4},{"s":34,"h":12,"v":-2.5},{"s":34,"h":13,"v":-5},{"s":34,"h":14,"v":-4},{"s":34,"h":15,"v":-6},{"s":34,"h":16,"v":-7.5},{"s":34,"h":17,"v":-6},{"s":34,"h":18,"v":-8},{"s":34,"h":19,"v":-9},{"s":34,"h":20,"v":-8},{"s":34,"h":21,"v":-10},{"s":34,"h":22,"v":-9},{"s":34,"h":23,"v":-11},{"s":34,"h":23.75,"v":-12},
{"s":35,"h":0,"v":0},{"s":35,"h":1,"v":2},{"s":35,"h":2,"v":1},{"s":35,"h":3,"v":3.5},{"s":35,"h":4,"v":2},{"s":35,"h":5,"v":4.5},{"s":35,"h":6,"v":3},{"s":35,"h":7,"v":5},{"s":35,"h":8,"v":6.5},{"s":35,"h":9,"v":5},{"s":35,"h":10,"v":4},{"s":35,"h":11,"v":6},{"s":35,"h":12,"v":5},{"s":35,"h":13,"v":7.5},{"s":35,"h":14,"v":6},{"s":35,"h":15,"v":5},{"s":35,"h":16,"v":7},{"s":35,"h":17,"v":8.5},{"s":35,"h":18,"v":7},{"s":35,"h":19,"v":9},{"s":35,"h":20,"v":8},{"s":35,"h":21,"v":10},{"s":35,"h":22,"v":9},{"s":35,"h":23,"v":8},{"s":35,"h":23.75,"v":9.5},
{"s":36,"h":0,"v":0},{"s":36,"h":1,"v":-1},{"s":36,"h":2,"v":-2},{"s":36,"h":3,"v":-3},{"s":36,"h":4,"v":-2},{"s":36,"h":5,"v":-4},{"s":36,"h":6,"v":-3},{"s":36,"h":7,"v":-5},{"s":36,"h":8,"v":-4},{"s":36,"h":9,"v":-6},{"s":36,"h":10,"v":-5},{"s":36,"h":11,"v":-7},{"s":36,"h":12,"v":-8},{"s":36,"h":13,"v":-6},{"s":36,"h":14,"v":-4},{"s":36,"h":15,"v":-5.5},{"s":36,"h":16,"v":-3},{"s":36,"h":17,"v":-4.5},{"s":36,"h":18,"v":-3},{"s":36,"h":19,"v":-5},{"s":36,"h":20,"v":-3.5},{"s":36,"h":21,"v":-2},{"s":36,"h":22,"v":-4},{"s":36,"h":23,"v":-3},{"s":36,"h":23.75,"v":-5},
{"s":37,"h":0,"v":0},{"s":37,"h":1,"v":1},{"s":37,"h":2,"v":2.5},{"s":37,"h":3,"v":1.5},{"s":37,"h":4,"v":0},{"s":37,"h":5,"v":1.5},{"s":37,"h":6,"v":3},{"s":37,"h":7,"v":4.5},{"s":37,"h":8,"v":3},{"s":37,"h":9,"v":4.5},{"s":37,"h":10,"v":6},{"s":37,"h":11,"v":4.5},{"s":37,"h":12,"v":3},{"s":37,"h":13,"v":1.5},{"s":37,"h":14,"v":2.5},{"s":37,"h":15,"v":1},{"s":37,"h":16,"v":0},{"s":37,"h":17,"v":1.5},{"s":37,"h":18,"v":-0.5},{"s":37,"h":19,"v":1},{"s":37,"h":20,"v":-1},{"s":37,"h":21,"v":0.5},{"s":37,"h":22,"v":-1.5},{"s":37,"h":23,"v":0},{"s":37,"h":23.75,"v":-1},
{"s":38,"h":0,"v":0},{"s":38,"h":1,"v":0.5},{"s":38,"h":2,"v":2},{"s":38,"h":3,"v":1},{"s":38,"h":4,"v":3},{"s":38,"h":5,"v":2},{"s":38,"h":6,"v":4},{"s":38,"h":7,"v":3},{"s":38,"h":8,"v":5},{"s":38,"h":9,"v":4},{"s":38,"h":10,"v":6},{"s":38,"h":11,"v":4.5},{"s":38,"h":12,"v":3},{"s":38,"h":13,"v":5},{"s":38,"h":14,"v":7},{"s":38,"h":15,"v":5.5},{"s":38,"h":16,"v":8},{"s":38,"h":17,"v":6.5},{"s":38,"h":18,"v":9},{"s":38,"h":19,"v":7},{"s":38,"h":20,"v":10},{"s":38,"h":20.5,"v":12},{"s":38,"h":21,"v":10.5},{"s":38,"h":22,"v":12.5},{"s":38,"h":23,"v":11},{"s":38,"h":23.75,"v":13},
{"s":39,"h":0,"v":0},{"s":39,"h":1,"v":-1},{"s":39,"h":2,"v":0},{"s":39,"h":3,"v":2},{"s":39,"h":4,"v":1},{"s":39,"h":5,"v":3},{"s":39,"h":6,"v":2},{"s":39,"h":7,"v":0.5},{"s":39,"h":8,"v":-1},{"s":39,"h":9,"v":0.5},{"s":39,"h":10,"v":-1},{"s":39,"h":11,"v":-2.5},{"s":39,"h":12,"v":-1},{"s":39,"h":13,"v":-3},{"s":39,"h":14,"v":-2},{"s":39,"h":15,"v":-1},{"s":39,"h":16,"v":1},{"s":39,"h":17,"v":-0.5},{"s":39,"h":18,"v":2},{"s":39,"h":19,"v":0.5},{"s":39,"h":20,"v":3},{"s":39,"h":21,"v":1.5},{"s":39,"h":22,"v":4},{"s":39,"h":23,"v":2},{"s":39,"h":23.75,"v":3},
{"s":40,"h":0,"v":0},{"s":40,"h":0.5,"v":-0.5},{"s":40,"h":1,"v":-1.5},{"s":40,"h":1.5,"v":-1},{"s":40,"h":2,"v":-2},{"s":40,"h":2.5,"v":-3},{"s":40,"h":3,"v":-2.5},{"s":40,"h":3.5,"v":-4},{"s":40,"h":4,"v":-5},{"s":40,"h":4.5,"v":-3},{"s":40,"h":5,"v":-4},{"s":40,"h":5.5,"v":-5},{"s":40,"h":6,"v":-6.5},{"s":40,"h":6.5,"v":-5.5},{"s":40,"h":7,"v":-7},{"s":40,"h":7.5,"v":-8},{"s":40,"h":8,"v":-7.5},{"s":40,"h":8.5,"v":-9},{"s":40,"h":9,"v":-10},{"s":40,"h":9.5,"v":-8},{"s":40,"h":10,"v":-9.5},{"s":40,"h":10.5,"v":-10.5},{"s":40,"h":11,"v":-9},{"s":40,"h":11.5,"v":-11},{"s":40,"h":12,"v":-12},{"s":40,"h":12.5,"v":-11.5},{"s":40,"h":13,"v":-13},{"s":40,"h":13.5,"v":-14},{"s":40,"h":14,"v":-12},{"s":40,"h":14.5,"v":-13.5},{"s":40,"h":15,"v":-15},{"s":40,"h":15.5,"v":-14},{"s":40,"h":16,"v":-15.5},{"s":40,"h":16.5,"v":-16.5},{"s":40,"h":17,"v":-15},{"s":40,"h":17.5,"v":-16},{"s":40,"h":18,"v":-17.5},{"s":40,"h":18.5,"v":-16},{"s":40,"h":19,"v":-17},{"s":40,"h":19.5,"v":-18.5},{"s":40,"h":20,"v":-17},{"s":40,"h":20.5,"v":-15},{"s":40,"h":21,"v":-16.5},{"s":40,"h":21.5,"v":-17.5},{"s":40,"h":22,"v":-16},{"s":40,"h":22.5,"v":-17},{"s":40,"h":23,"v":-18},{"s":40,"h":23.75,"v":-17},
{"s":41,"h":0,"v":0},{"s":41,"h":0.5,"v":0.5},{"s":41,"h":1,"v":-0.5},{"s":41,"h":1.5,"v":1},{"s":41,"h":2,"v":0},{"s":41,"h":2.5,"v":-1},{"s":41,"h":3,"v":-2},{"s":41,"h":3.5,"v":-1},{"s":41,"h":4,"v":-2.5},{"s":41,"h":4.5,"v":-3.5},{"s":41,"h":5,"v":-2.5},{"s":41,"h":5.5,"v":-4},{"s":41,"h":6,"v":-5},{"s":41,"h":6.5,"v":-4},{"s":41,"h":7,"v":-5.5},{"s":41,"h":7.5,"v":-6.5},{"s":41,"h":8,"v":-5},{"s":41,"h":8.5,"v":-6.5},{"s":41,"h":9,"v":-7.5},{"s":41,"h":9.5,"v":-6},{"s":41,"h":10,"v":-7},{"s":41,"h":10.5,"v":-8.5},{"s":41,"h":11,"v":-9.5},{"s":41,"h":11.5,"v":-8},{"s":41,"h":12,"v":-9.5},{"s":41,"h":12.5,"v":-10.5},{"s":41,"h":13,"v":-9},{"s":41,"h":13.5,"v":-10},{"s":41,"h":14,"v":-11.5},{"s":41,"h":14.5,"v":-10},{"s":41,"h":15,"v":-11},{"s":41,"h":15.5,"v":-12.5},{"s":41,"h":16,"v":-11},{"s":41,"h":16.5,"v":-8},{"s":41,"h":17,"v":-9.5},{"s":41,"h":17.5,"v":-10.5},{"s":41,"h":18,"v":-9},{"s":41,"h":18.5,"v":-10.5},{"s":41,"h":19,"v":-12},{"s":41,"h":19.5,"v":-11},{"s":41,"h":20,"v":-12.5},{"s":41,"h":20.5,"v":-13.5},{"s":41,"h":21,"v":-12},{"s":41,"h":21.5,"v":-13},{"s":41,"h":22,"v":-14.5},{"s":41,"h":22.5,"v":-13},{"s":41,"h":23,"v":-14},{"s":41,"h":23.75,"v":-15},
{"s":42,"h":0,"v":0},{"s":42,"h":0.5,"v":1},{"s":42,"h":1,"v":0.5},{"s":42,"h":1.5,"v":2},{"s":42,"h":2,"v":1},{"s":42,"h":2.5,"v":0},{"s":42,"h":3,"v":1.5},{"s":42,"h":3.5,"v":0.5},{"s":42,"h":4,"v":-0.5},{"s":42,"h":4.5,"v":1},{"s":42,"h":5,"v":0},{"s":42,"h":5.5,"v":-1},{"s":42,"h":6,"v":0.5},{"s":42,"h":6.5,"v":-0.5},{"s":42,"h":7,"v":-1.5},{"s":42,"h":7.5,"v":0},{"s":42,"h":8,"v":-1},{"s":42,"h":8.5,"v":-2.5},{"s":42,"h":9,"v":-1.5},{"s":42,"h":9.5,"v":-3},{"s":42,"h":10,"v":-2},{"s":42,"h":10.5,"v":-3.5},{"s":42,"h":11,"v":-2.5},{"s":42,"h":11.5,"v":-4},{"s":42,"h":12,"v":-3},{"s":42,"h":12.5,"v":-1},{"s":42,"h":13,"v":-2.5},{"s":42,"h":13.5,"v":-1.5},{"s":42,"h":14,"v":-3},{"s":42,"h":14.5,"v":-2},{"s":42,"h":15,"v":-3.5},{"s":42,"h":15.5,"v":-2.5},{"s":42,"h":16,"v":-4},{"s":42,"h":16.5,"v":-2},{"s":42,"h":17,"v":-3},{"s":42,"h":17.5,"v":-4.5},{"s":42,"h":18,"v":-3.5},{"s":42,"h":18.5,"v":-5},{"s":42,"h":19,"v":-4},{"s":42,"h":19.5,"v":-2},{"s":42,"h":20,"v":-3},{"s":42,"h":20.5,"v":-4.5},{"s":42,"h":21,"v":-3.5},{"s":42,"h":21.5,"v":-5},{"s":42,"h":22,"v":-6},{"s":42,"h":22.5,"v":-4.5},{"s":42,"h":23,"v":-5.5},{"s":42,"h":23.75,"v":-6.5},
{"s":43,"h":0,"v":0},{"s":43,"h":0.5,"v":-0.5},{"s":43,"h":1,"v":0.5},{"s":43,"h":1.5,"v":-0.5},{"s":43,"h":2,"v":1},{"s":43,"h":2.5,"v":0},{"s":43,"h":3,"v":-1},{"s":43,"h":3.5,"v":0.5},{"s":43,"h":4,"v":-0.5},{"s":43,"h":4.5,"v":1.5},{"s":43,"h":5,"v":0.5},{"s":43,"h":5.5,"v":2},{"s":43,"h":6,"v":1},{"s":43,"h":6.5,"v":0},{"s":43,"h":7,"v":1.5},{"s":43,"h":7.5,"v":0.5},{"s":43,"h":8,"v":-0.5},{"s":43,"h":8.5,"v":-1.5},{"s":43,"h":9,"v":0},{"s":43,"h":9.5,"v":-1},{"s":43,"h":10,"v":-2},{"s":43,"h":10.5,"v":-1},{"s":43,"h":11,"v":0.5},{"s":43,"h":11.5,"v":-0.5},{"s":43,"h":12,"v":-1.5},{"s":43,"h":12.5,"v":0},{"s":43,"h":13,"v":-1},{"s":43,"h":13.5,"v":1},{"s":43,"h":14,"v":0},{"s":43,"h":14.5,"v":-1},{"s":43,"h":15,"v":0.5},{"s":43,"h":15.5,"v":2},{"s":43,"h":16,"v":1},{"s":43,"h":16.5,"v":0},{"s":43,"h":17,"v":2.5},{"s":43,"h":17.5,"v":1.5},{"s":43,"h":18,"v":3},{"s":43,"h":18.5,"v":2},{"s":43,"h":19,"v":1},{"s":43,"h":19.5,"v":2.5},{"s":43,"h":20,"v":1.5},{"s":43,"h":20.5,"v":3.5},{"s":43,"h":21,"v":2.5},{"s":43,"h":21.5,"v":1.5},{"s":43,"h":22,"v":3},{"s":43,"h":22.5,"v":2},{"s":43,"h":23,"v":4},{"s":43,"h":23.75,"v":3},
{"s":44,"h":0,"v":0},{"s":44,"h":0.5,"v":-1},{"s":44,"h":1,"v":-2},{"s":44,"h":1.5,"v":-1.5},{"s":44,"h":2,"v":-3},{"s":44,"h":2.5,"v":-2},{"s":44,"h":3,"v":-3.5},{"s":44,"h":3.5,"v":-4.5},{"s":44,"h":4,"v":-3.5},{"s":44,"h":4.5,"v":-5},{"s":44,"h":5,"v":-6},{"s":44,"h":5.5,"v":-5},{"s":44,"h":6,"v":-6.5},{"s":44,"h":6.5,"v":-7.5},{"s":44,"h":7,"v":-6},{"s":44,"h":7.5,"v":-7},{"s":44,"h":8,"v":-8.5},{"s":44,"h":8.5,"v":-7.5},{"s":44,"h":9,"v":-9},{"s":44,"h":9.5,"v":-10},{"s":44,"h":10,"v":-8.5},{"s":44,"h":10.5,"v":-9.5},{"s":44,"h":11,"v":-7},{"s":44,"h":11.5,"v":-8},{"s":44,"h":12,"v":-9.5},{"s":44,"h":12.5,"v":-8.5},{"s":44,"h":13,"v":-10},{"s":44,"h":13.5,"v":-11},{"s":44,"h":14,"v":-9.5},{"s":44,"h":14.5,"v":-10.5},{"s":44,"h":15,"v":-8},{"s":44,"h":15.5,"v":-9.5},{"s":44,"h":16,"v":-10.5},{"s":44,"h":16.5,"v":-9},{"s":44,"h":17,"v":-10},{"s":44,"h":17.5,"v":-11.5},{"s":44,"h":18,"v":-10.5},{"s":44,"h":18.5,"v":-12},{"s":44,"h":19,"v":-13},{"s":44,"h":19.5,"v":-11.5},{"s":44,"h":20,"v":-12.5},{"s":44,"h":20.5,"v":-10},{"s":44,"h":21,"v":-11},{"s":44,"h":21.5,"v":-12.5},{"s":44,"h":22,"v":-11.5},{"s":44,"h":22.5,"v":-13},{"s":44,"h":23,"v":-12},{"s":44,"h":23.75,"v":-13.5},
{"s":45,"h":0,"v":0},{"s":45,"h":0.5,"v":0.5},{"s":45,"h":1,"v":2},{"s":45,"h":1.5,"v":1},{"s":45,"h":2,"v":2.5},{"s":45,"h":2.5,"v":1.5},{"s":45,"h":3,"v":3},{"s":45,"h":3.5,"v":2},{"s":45,"h":4,"v":1},{"s":45,"h":4.5,"v":2.5},{"s":45,"h":5,"v":1.5},{"s":45,"h":5.5,"v":0.5},{"s":45,"h":6,"v":2},{"s":45,"h":6.5,"v":1},{"s":45,"h":7,"v":2.5},{"s":45,"h":7.5,"v":3.5},{"s":45,"h":8,"v":2.5},{"s":45,"h":8.5,"v":4},{"s":45,"h":9,"v":3},{"s":45,"h":9.5,"v":2},{"s":45,"h":10,"v":3.5},{"s":45,"h":10.5,"v":2.5},{"s":45,"h":11,"v":4},{"s":45,"h":11.5,"v":5.5},{"s":45,"h":12,"v":4.5},{"s":45,"h":12.5,"v":3.5},{"s":45,"h":13,"v":5},{"s":45,"h":13.5,"v":4},{"s":45,"h":14,"v":2.5},{"s":45,"h":14.5,"v":4},{"s":45,"h":15,"v":3},{"s":45,"h":15.5,"v":1.5},{"s":45,"h":16,"v":3},{"s":45,"h":16.5,"v":2},{"s":45,"h":17,"v":0.5},{"s":45,"h":17.5,"v":2},{"s":45,"h":18,"v":1},{"s":45,"h":18.5,"v":-0.5},{"s":45,"h":19,"v":1},{"s":45,"h":19.5,"v":0},{"s":45,"h":20,"v":-1},{"s":45,"h":20.5,"v":0.5},{"s":45,"h":21,"v":-0.5},{"s":45,"h":21.5,"v":1.5},{"s":45,"h":22,"v":0.5},{"s":45,"h":22.5,"v":-0.5},{"s":45,"h":23,"v":1},{"s":45,"h":23.75,"v":0},
{"s":46,"h":0,"v":0},{"s":46,"h":0.5,"v":1},{"s":46,"h":1,"v":0},{"s":46,"h":1.5,"v":-1},{"s":46,"h":2,"v":0.5},{"s":46,"h":2.5,"v":-0.5},{"s":46,"h":3,"v":1},{"s":46,"h":3.5,"v":2},{"s":46,"h":4,"v":1},{"s":46,"h":4.5,"v":2.5},{"s":46,"h":5,"v":1.5},{"s":46,"h":5.5,"v":3},{"s":46,"h":6,"v":2},{"s":46,"h":6.5,"v":1},{"s":46,"h":7,"v":2.5},{"s":46,"h":7.5,"v":1.5},{"s":46,"h":8,"v":0.5},{"s":46,"h":8.5,"v":-0.5},{"s":46,"h":9,"v":1},{"s":46,"h":9.5,"v":0},{"s":46,"h":10,"v":-1.5},{"s":46,"h":10.5,"v":-0.5},{"s":46,"h":11,"v":-2},{"s":46,"h":11.5,"v":-1},{"s":46,"h":12,"v":-2.5},{"s":46,"h":12.5,"v":-3.5},{"s":46,"h":13,"v":-2.5},{"s":46,"h":13.5,"v":-4},{"s":46,"h":14,"v":-3},{"s":46,"h":14.5,"v":-4.5},{"s":46,"h":15,"v":-5.5},{"s":46,"h":15.5,"v":-4.5},{"s":46,"h":16,"v":-6},{"s":46,"h":16.5,"v":-7},{"s":46,"h":17,"v":-6},{"s":46,"h":17.5,"v":-7.5},{"s":46,"h":18,"v":-6.5},{"s":46,"h":18.5,"v":-8},{"s":46,"h":19,"v":-9},{"s":46,"h":19.5,"v":-8},{"s":46,"h":20,"v":-9.5},{"s":46,"h":20.5,"v":-10.5},{"s":46,"h":21,"v":-9.5},{"s":46,"h":21.5,"v":-11},{"s":46,"h":22,"v":-10},{"s":46,"h":22.5,"v":-11.5},{"s":46,"h":23,"v":-12.5},{"s":46,"h":23.75,"v":-12},
{"s":47,"h":0,"v":0},{"s":47,"h":0.5,"v":-0.5},{"s":47,"h":1,"v":0.5},{"s":47,"h":1.5,"v":-0.5},{"s":47,"h":2,"v":-1.5},{"s":47,"h":2.5,"v":-0.5},{"s":47,"h":3,"v":-2},{"s":47,"h":3.5,"v":-1},{"s":47,"h":4,"v":0},{"s":47,"h":4.5,"v":-1},{"s":47,"h":5,"v":0.5},{"s":47,"h":5.5,"v":-0.5},{"s":47,"h":6,"v":-1.5},{"s":47,"h":6.5,"v":-2.5},{"s":47,"h":7,"v":-1},{"s":47,"h":7.5,"v":-2},{"s":47,"h":8,"v":-3.5},{"s":47,"h":8.5,"v":-2.5},{"s":47,"h":9,"v":-4},{"s":47,"h":9.5,"v":-5},{"s":47,"h":10,"v":-4},{"s":47,"h":10.5,"v":-5.5},{"s":47,"h":11,"v":-4.5},{"s":47,"h":11.5,"v":-6},{"s":47,"h":12,"v":-5},{"s":47,"h":12.5,"v":-6.5},{"s":47,"h":13,"v":-5.5},{"s":47,"h":13.5,"v":-3},{"s":47,"h":14,"v":-4.5},{"s":47,"h":14.5,"v":-5.5},{"s":47,"h":15,"v":-4},{"s":47,"h":15.5,"v":-5},{"s":47,"h":16,"v":-6.5},{"s":47,"h":16.5,"v":-5.5},{"s":47,"h":17,"v":-7},{"s":47,"h":17.5,"v":-8},{"s":47,"h":18,"v":-7},{"s":47,"h":18.5,"v":-8.5},{"s":47,"h":19,"v":-7.5},{"s":47,"h":19.5,"v":-9},{"s":47,"h":20,"v":-10},{"s":47,"h":20.5,"v":-9},{"s":47,"h":21,"v":-10.5},{"s":47,"h":21.5,"v":-9.5},{"s":47,"h":22,"v":-8},{"s":47,"h":22.5,"v":-9.5},{"s":47,"h":23,"v":-8.5},{"s":47,"h":23.75,"v":-9.5},
{"s":48,"h":0,"v":0},{"s":48,"h":0.5,"v":-1},{"s":48,"h":1,"v":0},{"s":48,"h":1.5,"v":-1.5},{"s":48,"h":2,"v":-0.5},{"s":48,"h":2.5,"v":-2},{"s":48,"h":3,"v":-3},{"s":48,"h":3.5,"v":-2},{"s":48,"h":4,"v":-3.5},{"s":48,"h":4.5,"v":-2.5},{"s":48,"h":5,"v":-1},{"s":48,"h":5.5,"v":-2},{"s":48,"h":6,"v":-3},{"s":48,"h":6.5,"v":-2},{"s":48,"h":7,"v":-3.5},{"s":48,"h":7.5,"v":-2.5},{"s":48,"h":8,"v":-4},{"s":48,"h":8.5,"v":-3},{"s":48,"h":9,"v":-4.5},{"s":48,"h":9.5,"v":-3.5},{"s":48,"h":10,"v":-2},{"s":48,"h":10.5,"v":-3},{"s":48,"h":11,"v":-4.5},{"s":48,"h":11.5,"v":-3.5},{"s":48,"h":12,"v":-2},{"s":48,"h":12.5,"v":-3},{"s":48,"h":13,"v":-1.5},{"s":48,"h":13.5,"v":-2.5},{"s":48,"h":14,"v":-4},{"s":48,"h":14.5,"v":-3},{"s":48,"h":15,"v":-4.5},{"s":48,"h":15.5,"v":-3.5},{"s":48,"h":16,"v":-2},{"s":48,"h":16.5,"v":-3.5},{"s":48,"h":17,"v":-2.5},{"s":48,"h":17.5,"v":-4},{"s":48,"h":18,"v":-5},{"s":48,"h":18.5,"v":-3},{"s":48,"h":19,"v":-4.5},{"s":48,"h":19.5,"v":-5.5},{"s":48,"h":20,"v":-4},{"s":48,"h":20.5,"v":-5},{"s":48,"h":21,"v":-6.5},{"s":48,"h":21.5,"v":-5.5},{"s":48,"h":22,"v":-7},{"s":48,"h":22.5,"v":-6},{"s":48,"h":23,"v":-7.5},{"s":48,"h":23.75,"v":-8},
{"s":49,"h":0,"v":0},{"s":49,"h":0.5,"v":1},{"s":49,"h":1,"v":2},{"s":49,"h":1.5,"v":1.5},{"s":49,"h":2,"v":3},{"s":49,"h":2.5,"v":2},{"s":49,"h":3,"v":3.5},{"s":49,"h":3.5,"v":2.5},{"s":49,"h":4,"v":4},{"s":49,"h":4.5,"v":3},{"s":49,"h":5,"v":2},{"s":49,"h":5.5,"v":3.5},{"s":49,"h":6,"v":2.5},{"s":49,"h":6.5,"v":4},{"s":49,"h":7,"v":3},{"s":49,"h":7.5,"v":2},{"s":49,"h":8,"v":3.5},{"s":49,"h":8.5,"v":2.5},{"s":49,"h":9,"v":1.5},{"s":49,"h":9.5,"v":3},{"s":49,"h":10,"v":2},{"s":49,"h":10.5,"v":0.5},{"s":49,"h":11,"v":1.5},{"s":49,"h":11.5,"v":0},{"s":49,"h":12,"v":-1},{"s":49,"h":12.5,"v":0.5},{"s":49,"h":13,"v":-0.5},{"s":49,"h":13.5,"v":-2},{"s":49,"h":14,"v":-1},{"s":49,"h":14.5,"v":-2.5},{"s":49,"h":15,"v":-1.5},{"s":49,"h":15.5,"v":-3},{"s":49,"h":16,"v":-2},{"s":49,"h":16.5,"v":-3.5},{"s":49,"h":17,"v":-2.5},{"s":49,"h":17.5,"v":-4},{"s":49,"h":18,"v":-5},{"s":49,"h":18.5,"v":-3.5},{"s":49,"h":19,"v":-4.5},{"s":49,"h":19.5,"v":-3},{"s":49,"h":20,"v":-4},{"s":49,"h":20.5,"v":-5.5},{"s":49,"h":21,"v":-4.5},{"s":49,"h":21.5,"v":-6},{"s":49,"h":22,"v":-5},{"s":49,"h":22.5,"v":-6.5},{"s":49,"h":23,"v":-5.5},{"s":49,"h":23.75,"v":-7}
]},
"resolve": {"axis": {"x": "independent", "y": "independent"}},
"layer": [
  {
    "mark": {"type": "line", "strokeWidth": 1, "clip": true},
    "encoding": {
      "x": {"field": "h", "type": "quantitative", "scale": {"domain": [0, 23.75], "nice": false, "zero": false},
            "axis": {"orient": "bottom", "values": [0,1,2,3,4,5,6,7,8,9,10,11,12,13,14,15,16,17,18,19,20,21,22,23], "title": "Hour of Day", "labelPadding": 10, "titlePadding": 4, "labelFlush": false}},
      "y": {"field": "v", "type": "quantitative", "scale": {"domain": [-40, 40], "nice": false},
            "axis": {"orient": "left", "values": [-40,-30,-20,-10,0,10,20,30,40], "title": "Cumulative (Z*Z)-1", "labelPadding": 10, "titlePadding": 8, "labelFlush": false}},
      "color": {"field": "s", "type": "nominal", "legend": null,
        "scale": {"domain": [1,2,3,4,5,6,7,8,9,10,11,12,13,14,15,16,17,18,19,20,21,22,23,24,25,26,27,28,29,30,31,32,33,34,35,36,37,38,39,40,41,42,43,44,45,46,47,48,49],
                  "range": ["#ff0000","#a00000","#000000","#0000ff","#6060ff","#00b000","#ff55ff","#ff55ff","#44ffff","#ff0000","#ff0000","#6060ff","#0000ff","#44ffff","#44ffff","#00b000","#ff55ff","#0000ff","#ffff00","#ffff00","#ffff00","#00b000","#00b000","#ff0000","#ff0000","#a00000","#a00000","#0000ff","#0000ff","#6060ff","#ff55ff","#ff55ff","#44ffff","#000000","#0000ff","#00b000","#44ffff","#ff0000","#ffff00","#44ffff","#ffff00","#ff55ff","#0000ff","#a00000","#00b000","#6060ff","#44ffff","#ff0000","#ffff00"]}}
    }
  },
  {
    "mark": {"type": "line", "opacity": 0},
    "encoding": {
      "x": {"field": "h", "type": "quantitative", "axis": {"orient": "top", "values": [0,1,2,3,4,5,6,7,8,9,10,11,12,13,14,15,16,17,18,19,20,21,22,23], "labels": false, "title": null}},
      "y": {"field": "v", "type": "quantitative", "axis": {"orient": "right", "values": [-40,-30,-20,-10,0,10,20,30,40], "labels": false, "title": null}},
      "detail": {"field": "s", "type": "nominal"}
    }
  }
]
}
